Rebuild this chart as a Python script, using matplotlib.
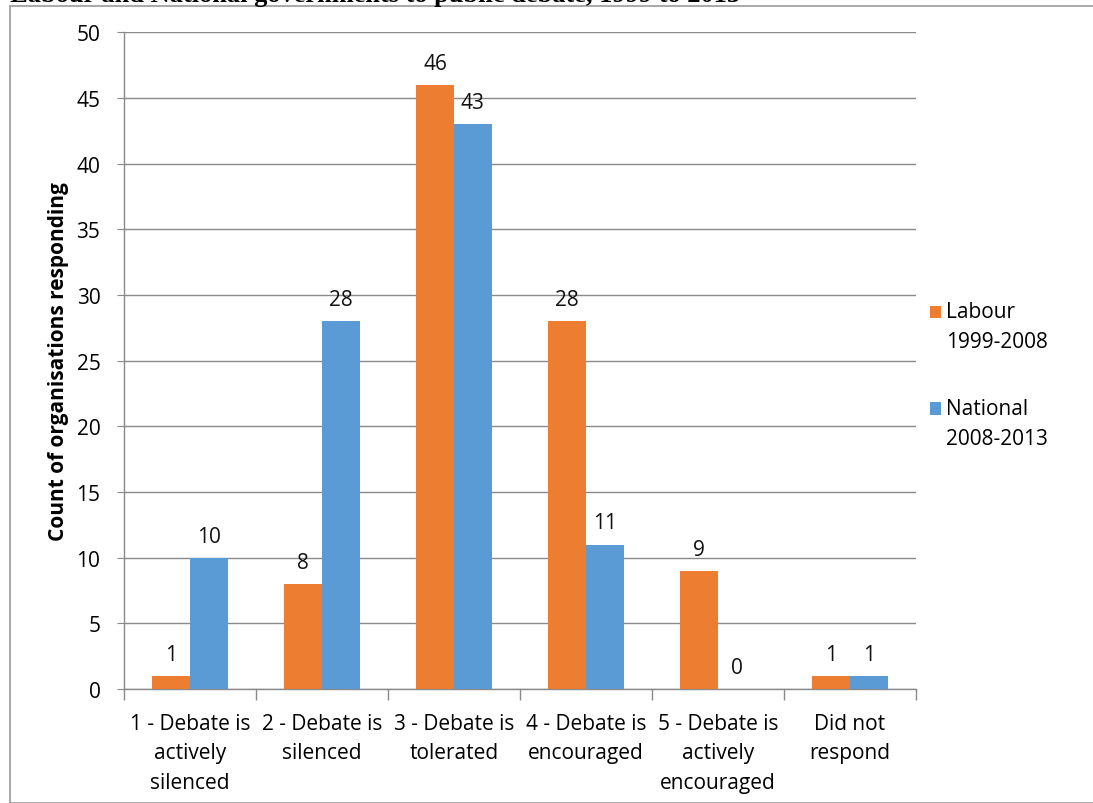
import matplotlib
matplotlib.use("Agg")
import matplotlib.pyplot as plt
import numpy as np
from matplotlib.patches import Rectangle
from matplotlib.legend_handler import HandlerPatch

categories = ["1 - Debate is\nactively\nsilenced", "2 - Debate is\nsilenced",
              "3 - Debate is\ntolerated", "4 - Debate is\nencouraged",
              "5 - Debate is\nactively\nencouraged", "Did not\nrespond"]
labour = [1, 8, 46, 28, 9, 1]
national = [10, 28, 43, 11, 0, 1]
series_names = ["Labour\n1999-2008", "National\n2008-2013"]
yticks = [0, 5, 10, 15, 20, 25, 30, 35, 40, 45, 50]

ORANGE = "#ED7D31"
BLUE = "#5B9BD5"
GRID = "#898989"
FONT = "Open Sans"
FS = 15

plt.rcParams['font.family'] = [FONT, 'DejaVu Sans']

W, H = 1093, 804
fig = plt.figure(figsize=(W/100, H/100), dpi=100)

# outer frame
fig.patches.append(Rectangle((10/W, 0), 1.2, 1 - 7/H, transform=fig.transFigure,
                             fill=False, edgecolor="#9a9a9a", linewidth=1.2))
# clipped caption above
fig.text(10/W, 1 - 2/H, "Labour and National governments to public debate, 1999 to 2013",
         family="Liberation Serif", fontweight="bold", fontsize=19, va="baseline", ha="left")

ax = fig.add_axes([124/W, 1 - 690/H, (916-124)/W, (690-33.3)/H])
x = np.arange(len(categories))
bw = 1/3.5
b1 = ax.bar(x - bw/2, labour, bw, color=ORANGE, label=series_names[0], zorder=3)
b2 = ax.bar(x + bw/2, national, bw, color=BLUE, label=series_names[1], zorder=3)

for bars, vals in ((b1, labour), (b2, national)):
    for r, v in zip(bars, vals):
        ax.annotate(str(v), (r.get_x() + r.get_width()/2, v), xytext=(0, 8),
                    textcoords="offset points", ha="center", va="bottom",
                    fontsize=FS, color="#111111")

ax.set_xlim(-0.5, len(categories) - 0.5)
ax.set_ylim(0, 50)
ax.set_yticks(yticks)
ax.set_yticklabels([str(t) for t in yticks], fontsize=FS)
ax.yaxis.grid(True, color=GRID, linewidth=1, zorder=0)
ax.set_axisbelow(True)
ax.tick_params(axis="y", length=5, color=GRID, pad=12)

ax.set_xticks(x)
ax.set_xticklabels(categories, fontsize=FS, linespacing=1.55)
ax.set_xticks(np.arange(len(categories) + 1) - 0.5, minor=True)
ax.tick_params(axis="x", which="major", length=0, pad=17)
ax.tick_params(axis="x", which="minor", length=8, color=GRID, width=1)

for s in ("top", "right"):
    ax.spines[s].set_visible(False)
for s in ("left", "bottom"):
    ax.spines[s].set_color(GRID)
    ax.spines[s].set_linewidth(1)

ax.set_ylabel("Count of organisations responding", fontsize=FS, fontweight="bold", labelpad=5)


def top_square(legend, orig_handle, xdescent, ydescent, width, height, fontsize):
    return Rectangle((-xdescent, -ydescent + 11), width, height)


leg = ax.legend(handles=[b1[0], b2[0]], labels=series_names,
                loc="center left", bbox_to_anchor=(1.0177, 0.478), frameon=False,
                fontsize=FS, handlelength=0.55, handleheight=0.55,
                handletextpad=0.22, labelspacing=2.2, borderpad=0, borderaxespad=0,
                handler_map={Rectangle: HandlerPatch(patch_func=top_square)})
for t in leg.get_texts():
    t.set_linespacing(1.55)

fig.savefig("out.png", dpi=100)
